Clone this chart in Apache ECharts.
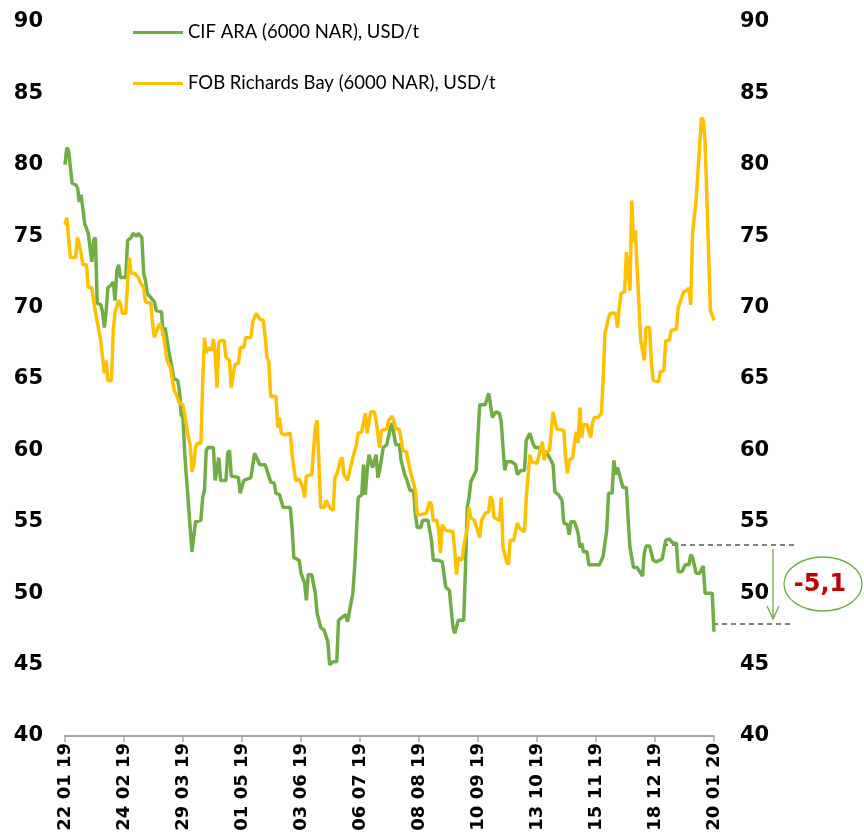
<!DOCTYPE html>
<html lang="en">
<head>
    <meta charset="UTF-8">
    <title>CIF ARA / FOB Richards Bay</title>
    <style>
        html, body {
            margin: 0;
            padding: 0;
            background: #fff;
        }

        #main {
            width: 864px;
            height: 834px;
        }
    </style>
</head>
<body>
<div id="main"></div>
<script src="https://cdn.jsdelivr.net/npm/echarts@6/dist/echarts.min.js"></script>
<script>
    // [day since 22.01.2019, USD/t]
    const cifAra = [[0,80.0],[1,81.2],[2,81.0],[4,78.7],[6,78.6],[7,78.4],[8,77.4],[9,77.9],[10,77.9],[11,75.9],[12,75.8],[13,75.2],[14,74.2],[15,73.2],[16,74.7],[17,74.9],[18,70.3],[20,70.2],[21,69.7],[22,68.6],[23,69.7],[24,71.4],[26,71.6],[27,71.8],[28,70.5],[29,72.6],[30,73.0],[31,72.1],[34,72.1],[35,74.7],[37,74.9],[38,75.2],[40,75.0],[41,75.2],[43,74.9],[44,72.4],[45,71.9],[46,71.0],[48,70.7],[50,70.4],[51,69.8],[54,69.7],[55,68.0],[56,68.6],[58,67.0],[59,67.0],[61,65.0],[63,64.9],[64,64.2],[65,62.5],[66,62.3],[67,59.7],[68,59.7],[71,52.9],[73,55.0],[76,55.1],[77,56.7],[78,57.2],[79,60.0],[80,60.2],[83,60.2],[84,57.9],[85,57.9],[86,59.5],[87,57.9],[90,57.9],[91,59.8],[92,60.0],[93,58.2],[97,58.1],[98,57.0],[100,57.9],[104,58.1],[106,59.8],[107,59.8],[109,59.0],[112,59.0],[113,58.6],[115,57.8],[117,57.7],[118,57.0],[120,56.9],[122,56.0],[126,56.0],[127,54.6],[128,52.5],[131,52.3],[132,51.4],[134,50.7],[135,49.5],[136,51.3],[138,51.3],[140,50.0],[141,48.6],[143,47.6],[145,47.4],[147,46.6],[148,45.0],[150,45.2],[152,45.2],[153,48.1],[155,48.3],[157,48.5],[158,48.0],[159,48.0],[161,50.0],[162,51.8],[164,56.7],[166,56.9],[167,59.0],[168,56.9],[169,58.6],[170,59.7],[172,58.8],[173,58.8],[174,59.7],[175,58.1],[176,58.6],[178,60.2],[180,60.4],[182,61.6],[183,61.9],[184,61.1],[185,60.4],[187,60.4],[188,59.3],[190,58.3],[191,58.0],[193,57.2],[195,57.2],[196,55.5],[197,54.6],[199,54.6],[200,55.1],[203,55.1],[205,53.7],[206,52.3],[209,52.3],[211,52.2],[213,50.4],[215,50.2],[217,47.6],[218,47.2],[219,47.1],[220,48.1],[223,48.1],[224,51.8],[225,56.0],[226,56.7],[227,57.8],[228,57.9],[230,58.6],[231,61.1],[232,63.2],[235,63.2],[237,64.0],[238,63.2],[239,62.3],[241,62.7],[243,62.6],[244,62.0],[245,60.2],[246,58.6],[247,59.2],[250,59.2],[252,59.0],[253,58.3],[255,58.6],[257,58.6],[258,60.7],[260,61.2],[262,60.4],[263,60.2],[265,60.2],[266,60.0],[269,59.9],[271,59.5],[273,59.0],[274,57.1],[276,56.9],[278,56.5],[279,54.9],[281,54.8],[282,54.1],[283,55.0],[285,55.0],[286,54.6],[287,54.2],[288,53.2],[289,53.5],[290,52.9],[292,52.9],[293,52.0],[299,52.0],[301,52.6],[303,54.4],[304,57.0],[306,57.0],[307,59.3],[308,58.3],[309,58.8],[311,57.9],[312,57.4],[314,57.4],[315,55.1],[316,53.2],[318,51.8],[320,51.8],[323,51.2],[324,52.8],[325,53.3],[327,53.3],[329,52.3],[331,52.2],[334,52.4],[336,53.7],[338,53.8],[340,53.5],[342,53.5],[343,51.5],[345,51.5],[347,52.0],[349,52.0],[350,52.7],[351,52.5],[352,52.6],[353,51.4],[355,51.4],[357,51.9],[358,50.0],[362,50.0],[363,47.3]]

    const fobRb = [[0,75.8],[1,76.3],[3,73.5],[6,73.5],[7,74.9],[8,74.4],[9,73.8],[10,73.0],[12,73.0],[13,71.4],[15,71.4],[16,70.5],[17,69.7],[18,69.6],[20,67.7],[21,66.5],[22,65.4],[23,66.3],[24,64.9],[26,64.9],[27,68.4],[28,69.7],[30,70.5],[31,70.3],[32,69.6],[34,69.6],[35,71.7],[36,73.5],[37,72.4],[39,72.4],[41,72.1],[42,71.8],[44,71.4],[45,70.4],[48,70.3],[49,68.9],[50,67.9],[51,68.3],[53,68.9],[54,68.9],[55,68.2],[57,66.3],[59,65.8],[61,64.2],[62,64.0],[64,63.3],[66,63.2],[67,62.5],[68,62.5],[69,60.9],[70,60.4],[71,58.5],[72,59.0],[73,60.2],[74,60.5],[76,60.5],[77,64.7],[78,67.9],[79,66.8],[80,67.2],[82,67.0],[83,67.8],[84,66.8],[85,64.4],[86,67.5],[87,67.7],[89,67.7],[90,66.5],[92,66.3],[93,64.4],[95,66.0],[96,66.0],[97,66.1],[98,67.2],[100,67.2],[101,67.9],[104,67.9],[105,69.0],[107,69.6],[108,69.5],[109,69.2],[111,69.1],[112,67.9],[113,66.5],[114,66.2],[115,63.8],[118,63.8],[119,61.6],[120,62.3],[121,61.2],[123,61.1],[126,61.2],[127,59.7],[129,57.9],[131,58.0],[133,57.4],[134,56.7],[135,58.2],[138,58.3],[140,61.6],[141,62.1],[142,59.2],[143,56.0],[145,56.0],[146,56.5],[148,56.0],[150,55.8],[151,58.1],[152,58.3],[154,59.3],[155,59.5],[156,58.3],[158,57.9],[159,57.9],[161,59.5],[163,60.4],[164,61.2],[166,61.3],[168,62.6],[169,61.2],[171,62.7],[173,62.7],[174,62.1],[176,60.2],[177,61.4],[180,61.5],[181,62.1],[183,62.4],[184,62.0],[185,61.5],[187,61.5],[189,60.0],[191,59.9],[193,58.6],[194,58.5],[196,57.2],[197,55.5],[199,55.5],[202,55.6],[204,56.4],[205,56.2],[206,55.1],[208,55.1],[209,54.4],[210,52.8],[211,54.8],[213,54.4],[214,54.3],[217,54.3],[218,52.9],[219,51.3],[220,52.5],[222,52.3],[223,53.2],[225,54.6],[226,56.0],[227,55.3],[229,55.1],[230,55.0],[232,53.9],[233,55.1],[235,55.6],[237,55.7],[238,56.8],[239,56.5],[240,55.3],[243,55.1],[244,56.7],[245,53.2],[247,52.2],[248,52.0],[249,53.7],[251,53.7],[253,54.9],[254,54.6],[257,54.3],[258,56.7],[260,59.7],[261,59.2],[264,59.1],[265,59.0],[267,60.6],[268,59.3],[269,59.9],[270,60.0],[271,60.0],[273,62.7],[274,62.6],[275,61.5],[279,61.4],[280,59.5],[281,58.4],[282,59.3],[284,59.5],[285,60.6],[286,61.3],[287,60.5],[288,63.0],[289,60.9],[290,61.8],[292,61.8],[294,60.9],[295,61.9],[296,62.3],[298,62.3],[300,62.6],[301,64.9],[302,68.2],[304,69.3],[305,69.6],[308,69.6],[309,68.6],[310,70.0],[311,71.0],[313,71.1],[314,73.9],[315,74.0],[316,71.2],[317,77.5],[318,74.6],[319,75.4],[320,75.3],[322,67.7],[323,67.6],[324,66.3],[325,68.6],[327,68.6],[328,66.1],[329,64.9],[332,64.8],[333,65.5],[335,65.6],[336,67.7],[338,67.7],[339,68.4],[342,68.5],[343,70.0],[344,70.1],[346,71.1],[348,71.2],[349,71.4],[350,70.2],[351,75.2],[352,75.2],[353,77.5],[354,77.5],[356,83.3],[357,83.1],[358,81.7],[361,69.8],[362,69.8],[363,69.1]]

    const seriesNames = ['CIF ARA (6000 NAR), USD/t', 'FOB Richards Bay (6000 NAR), USD/t']
    const deltaText = '-5,1'

    // daily categories 22.01.2019 .. 20.01.2020, a label every 33 days
    const days = []
    const start = Date.UTC(2019, 0, 22)
    const pad = n => String(n).padStart(2, '0')
    for (let i = 0; i <= 363; i++) {
        const d = new Date(start + i * 86400000)
        days.push(pad(d.getUTCDate()) + ' ' + pad(d.getUTCMonth() + 1) + ' ' + pad(d.getUTCFullYear() % 100))
    }

    const axisFont = {fontFamily: 'DejaVu Sans', fontWeight: 'bold', color: '#000'}

    let myChart = echarts.init(document.querySelector('#main'))
    let option = {
        animation: false,
        color: ['#70AD47', '#FFC000'],
        grid: {left: 65, right: 150, top: 22, bottom: 98, containLabel: false, outerBoundsMode: 'none'},
        legend: {
            orient: 'vertical',
            left: 133,
            top: 23,
            padding: 0,
            itemGap: 32,
            itemWidth: 50,
            itemHeight: 3,
            icon: 'rect',
            textStyle: {fontFamily: 'Lato', fontSize: 18.5, color: '#000'},
            data: seriesNames
        },
        xAxis: {
            type: 'category',
            data: days,
            boundaryGap: false,
            axisLine: {lineStyle: {color: '#A6A6A6', width: 2}},
            axisTick: {interval: 32, length: 6, lineStyle: {color: '#A6A6A6', width: 1.5}},
            axisLabel: Object.assign({interval: 32, rotate: 90, fontSize: 18, margin: 7}, axisFont),
            splitLine: {show: false}
        },
        yAxis: [
            {
                type: 'value', position: 'left', min: 40, max: 90, interval: 5,
                axisLine: {show: false}, axisTick: {show: false}, splitLine: {show: false},
                axisLabel: Object.assign({fontSize: 21, margin: 22}, axisFont)
            },
            {
                type: 'value', position: 'right', min: 40, max: 90, interval: 5,
                axisLine: {show: false}, axisTick: {show: false}, splitLine: {show: false},
                axisLabel: Object.assign({fontSize: 21, margin: 26}, axisFont)
            }
        ],
        series: [
            {
                name: seriesNames[0],
                type: 'line',
                data: cifAra,
                showSymbol: false,
                lineStyle: {width: 3.5}
            },
            {
                name: seriesNames[1],
                type: 'line',
                data: fobRb,
                showSymbol: false,
                lineStyle: {width: 3.5}
            }
        ],
        graphic: [
            {
                type: 'line', shape: {x1: 663, y1: 545, x2: 798, y2: 545},
                style: {stroke: '#000', lineWidth: 1, lineDash: [5, 4]}
            },
            {
                type: 'line', shape: {x1: 713, y1: 624, x2: 794, y2: 624},
                style: {stroke: '#000', lineWidth: 1, lineDash: [5, 4]}
            },
            {
                type: 'line', shape: {x1: 773, y1: 549, x2: 773, y2: 619},
                style: {stroke: '#70AD47', lineWidth: 1.3}
            },
            {
                type: 'polyline', shape: {points: [[767, 606], [773, 619], [779, 606]]},
                style: {stroke: '#70AD47', lineWidth: 1.3, fill: null}
            },
            {
                type: 'ellipse', shape: {cx: 823, cy: 584, rx: 39, ry: 27},
                style: {stroke: '#70AD47', lineWidth: 1.3, fill: '#fff'}
            },
            {
                type: 'text', x: 820, y: 585,
                style: {
                    text: deltaText, fill: '#C00000', font: 'bold 24px "DejaVu Sans"',
                    align: 'center', verticalAlign: 'middle'
                }
            }
        ]
    }
    myChart.setOption(option)
</script>
</body>
</html>
